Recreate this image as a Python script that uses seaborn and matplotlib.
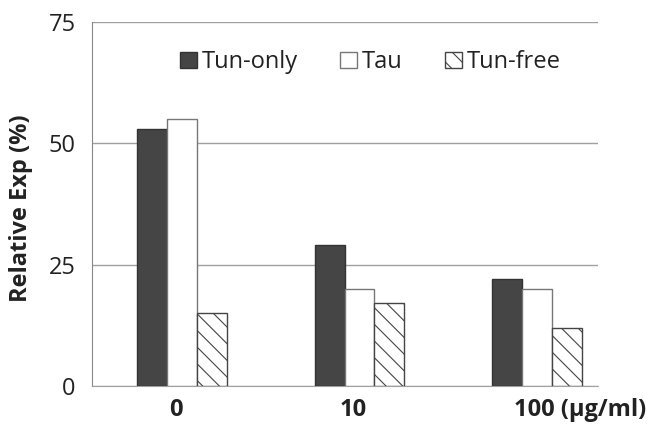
import numpy as np
import pandas as pd
import matplotlib
matplotlib.use("Agg")
import matplotlib.pyplot as plt
import matplotlib.transforms as mtransforms
import seaborn as sns

# values
doses = ["0", "10", "100 (μg/ml)"]
groups = ["Tun-only", "Tau", "Tun-free"]
tun_only = [53, 29, 22]
tau = [55, 20, 20]
tun_free = [15, 17, 12]

df = pd.DataFrame({
    "dose": doses * 3,
    "group": [g for g in groups for _ in doses],
    "value": tun_only + tau + tun_free,
})

sns.set_style("white")
plt.rcParams["font.family"] = ["Open Sans", "DejaVu Sans"]
plt.rcParams["hatch.color"] = "#444444"
plt.rcParams["hatch.linewidth"] = 0.8

fig = plt.figure(figsize=(6.51, 4.26), dpi=100)
ax = fig.add_axes([0.141, 0.094, 0.778, 0.854])

sns.barplot(data=df, x="dose", y="value", hue="group", order=doses, hue_order=groups,
            width=0.505, ax=ax, legend=False, zorder=3)

face = {"Tun-only": "#454545", "Tau": "white", "Tun-free": "white"}
edge = {"Tun-only": "#333333", "Tau": "#777777", "Tun-free": "#444444"}
hatch = {"Tun-only": "", "Tau": "", "Tun-free": "\\\\"}
for cont, g in zip(ax.containers, groups):
    for bar in cont:
        bar.set_facecolor(face[g])
        bar.set_edgecolor(edge[g])
        bar.set_linewidth(1.0)
        bar.set_hatch(hatch[g])

ax.set_ylim(0, 75)
ax.set_xlim(-0.506, 2.343)
ax.set_yticks([0, 25, 50, 75])
ax.yaxis.grid(True, color="#a0a0a0", linewidth=1.0, zorder=0)
ax.set_axisbelow(True)
for s in ["top", "right"]:
    ax.spines[s].set_visible(False)
ax.spines["left"].set_color("#888888")
ax.spines["bottom"].set_color("#a0a0a0")
ax.tick_params(axis="y", length=8, color="#888888", labelsize=17, labelcolor="#222222", pad=3.5)
ax.tick_params(axis="x", length=0, labelsize=17, labelcolor="#222222", pad=9)
for lbl in ax.get_xticklabels():
    lbl.set_fontweight("bold")

# nudge the x labels like in the reference
offsets = [-6, -6, 43]
for lbl, dx in zip(ax.get_xticklabels(), offsets):
    lbl.set_transform(lbl.get_transform() + mtransforms.ScaledTranslation(dx / 100, 0, fig.dpi_scale_trans))

ax.set_xlabel("")
ax.set_ylabel("Relative Exp (%)", fontsize=17, fontweight="bold", color="#222222")
ax.yaxis.set_label_coords(-0.117, 0.49)

handles = [plt.Rectangle((0, 0), 1, 1, facecolor=face[g], edgecolor=edge[g], hatch=hatch[g]) for g in groups]
ax.legend(handles, groups, ncol=3, frameon=False, loc="center", bbox_to_anchor=(0.55, 0.89),
          fontsize=17, handlelength=0.72, handleheight=0.72, handletextpad=0.2, columnspacing=1.8,
          labelcolor="#222222", borderpad=0)

fig.savefig("out.png", dpi=100)
